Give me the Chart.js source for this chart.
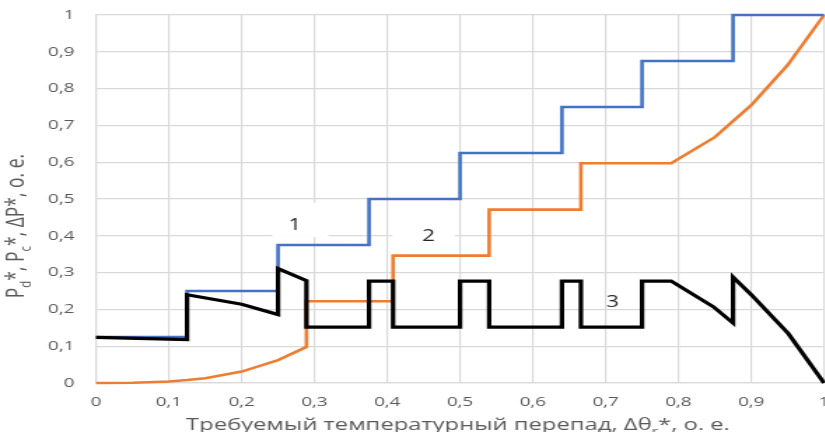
<!DOCTYPE html>
<html>
<head>
<meta charset="utf-8">
<script src="https://cdn.jsdelivr.net/npm/chart.js@4.4.1/dist/chart.umd.min.js"></script>
<style>
  html, body { margin: 0; padding: 0; background: #fff; overflow: hidden; }
  #wrap { width: 590px; height: 432px; transform: scaleX(1.4); transform-origin: 0 0; }
  canvas { display: block; }
</style>
</head>
<body>
<div id="wrap"><canvas id="chart" width="590" height="432"></canvas></div>
<script>
// Axis tick labels (decimal comma)
const xTickLabels = ['0', '0,1', '0,2', '0,3', '0,4', '0,5', '0,6', '0,7', '0,8', '0,9', '1'];
const yTickLabels = ['0', '0,1', '0,2', '0,3', '0,4', '0,5', '0,6', '0,7', '0,8', '0,9', '1'];

// Curve 1: P_d* (stepped)
const curve1X = [0, 0.125, 0.125, 0.25, 0.25, 0.375, 0.375, 0.5, 0.5, 0.64, 0.64, 0.75, 0.75, 0.875, 0.875, 1];
const curve1Y = [0.125, 0.125, 0.25, 0.25, 0.375, 0.375, 0.5, 0.5, 0.625, 0.625, 0.75, 0.75, 0.875, 0.875, 1, 1];

// Curve 2: P_c*
const curve2X = [0, 0.05, 0.1, 0.125, 0.15, 0.2, 0.25, 0.289, 0.289, 0.408, 0.408, 0.54, 0.54, 0.666, 0.666, 0.79, 0.85, 0.9, 0.95, 1];
const curve2Y = [0, 0.0005, 0.004, 0.008, 0.013, 0.031, 0.062, 0.098, 0.222, 0.222, 0.346, 0.346, 0.471, 0.471, 0.597, 0.597, 0.668, 0.755, 0.864, 1];

// Curve 3: ΔP*
const curve3X = [0, 0.125, 0.125, 0.2, 0.25, 0.25, 0.289, 0.289, 0.375, 0.375, 0.408, 0.408, 0.5, 0.5, 0.54, 0.54, 0.64, 0.64, 0.666, 0.666, 0.75, 0.75, 0.79, 0.848, 0.875, 0.875, 0.9, 0.951, 1];
const curve3Y = [0.124, 0.118, 0.24, 0.214, 0.186, 0.311, 0.278, 0.152, 0.152, 0.277, 0.277, 0.152, 0.152, 0.277, 0.277, 0.152, 0.152, 0.277, 0.277, 0.152, 0.152, 0.277, 0.277, 0.207, 0.163, 0.288, 0.24, 0.134, 0];

// Curve number labels, placed in data coordinates
const curveNames = ['1', '2', '3'];
const curveNameX = [0.273, 0.4565, 0.7097];
const curveNameY = [0.429, 0.397, 0.220];

const pairs = (xs, ys) => xs.map((v, i) => ({ x: v, y: ys[i] }));

// White backing boxes behind the curve numbers (data coordinates: x0, x1, y0, y1)
const nameBoxes = [
  [0.242, 0.319, 0.397, 0.49],
  [0.407, 0.493, 0.361, 0.431]
];

const TEXT_FONT = "'Open Sans', 'Noto Sans', sans-serif";
const TEXT_COLOR = '#595959';

function richWidth(ctx, parts, size) {
  let w = 0;
  for (const p of parts) {
    ctx.font = `${p.sub ? size * 0.65 : size}px ${TEXT_FONT}`;
    w += ctx.measureText(p.t).width;
  }
  return w;
}

function drawRich(ctx, parts, cx, baseline, size) {
  const total = richWidth(ctx, parts, size);
  let x = cx - total / 2;
  ctx.textAlign = 'left';
  ctx.textBaseline = 'alphabetic';
  for (const p of parts) {
    const s = p.sub ? size * 0.65 : size;
    ctx.font = `${s}px ${TEXT_FONT}`;
    ctx.fillText(p.t, x, baseline + (p.sub ? size * 0.28 : 0));
    x += ctx.measureText(p.t).width;
  }
}

const xTitleParts = [{ t: 'Требуемый температурный перепад, Δθ' }, { t: 'r', sub: true }, { t: '*, о. е.' }];
const yTitleParts = [{ t: 'P' }, { t: 'd', sub: true }, { t: '*, P' }, { t: 'c', sub: true }, { t: '*, ΔP*, о. е.' }];

const decorations = {
  id: 'decorations',
  beforeDatasetsDraw(chart) {
    const { ctx, scales: { x, y } } = chart;
    ctx.save();
    ctx.fillStyle = '#ffffff';
    for (const b of nameBoxes) {
      const x0 = x.getPixelForValue(b[0]), x1 = x.getPixelForValue(b[1]);
      const y0 = y.getPixelForValue(b[3]), y1 = y.getPixelForValue(b[2]);
      ctx.fillRect(x0, y0, x1 - x0, y1 - y0);
    }
    ctx.restore();
  },
  afterDatasetsDraw(chart) {
    const { ctx, scales: { x, y } } = chart;
    ctx.save();
    ctx.fillStyle = '#262626';
    ctx.font = `16px ${TEXT_FONT}`;
    ctx.textAlign = 'center';
    ctx.textBaseline = 'middle';
    curveNames.forEach((n, i) => {
      ctx.fillText(n, x.getPixelForValue(curveNameX[i]), y.getPixelForValue(curveNameY[i]));
    });
    ctx.restore();
  },
  afterDraw(chart) {
    const { ctx, chartArea } = chart;
    ctx.save();
    ctx.fillStyle = TEXT_COLOR;
    drawRich(ctx, xTitleParts, (chartArea.left + chartArea.right) / 2 - 1.5, 430, 17);
    ctx.translate(17, 226);
    ctx.rotate(-Math.PI / 2);
    drawRich(ctx, yTitleParts, 0, 0, 17.5);
    ctx.restore();
  }
};

const line = (data, color, width, order) => ({
  data, borderColor: color, backgroundColor: color, borderWidth: width,
  showLine: true, pointRadius: 0, pointHoverRadius: 0, tension: 0,
  borderJoinStyle: 'miter', borderCapStyle: 'butt', fill: false, clip: false, order
});

Chart.defaults.font.family = TEXT_FONT;
Chart.defaults.color = TEXT_COLOR;

new Chart(document.getElementById('chart'), {
  type: 'scatter',
  data: {
    datasets: [
      line(pairs(curve3X, curve3Y), '#000000', 3.2, 0),
      line(pairs(curve1X, curve1Y), '#4472C4', 2.6, 1),
      line(pairs(curve2X, curve2Y), '#ED7D31', 2.6, 2)
    ]
  },
  options: {
    responsive: false,
    animation: false,
    devicePixelRatio: 1,
    layout: { padding: { top: 15, right: 1.4, left: 0, bottom: 0 } },
    plugins: { legend: { display: false }, tooltip: { enabled: false } },
    scales: {
      x: {
        type: 'linear', min: 0, max: 1,
        grid: { color: '#d9d9d9', lineWidth: 1.2, drawTicks: false },
        border: { color: '#d9d9d9', width: 1.2 },
        ticks: {
          stepSize: 0.1, padding: 11, maxRotation: 0, autoSkip: false,
          font: { size: 13.5 }, callback: (v, i) => xTickLabels[i]
        },
        afterFit(scale) { scale.height = 49; scale.paddingLeft = 0; scale.paddingRight = 0; }
      },
      y: {
        type: 'linear', min: 0, max: 1,
        grid: { color: '#d9d9d9', lineWidth: 1.2, drawTicks: false },
        border: { color: '#d9d9d9', width: 1.2 },
        ticks: {
          stepSize: 0.1, padding: 15.5, autoSkip: false,
          font: { size: 13.5 }, callback: (v, i) => yTickLabels[i]
        },
        afterFit(scale) { scale.width = 68.6; scale.paddingTop = 0; scale.paddingBottom = 0; }
      }
    }
  },
  plugins: [decorations]
});
</script>
</body>
</html>
